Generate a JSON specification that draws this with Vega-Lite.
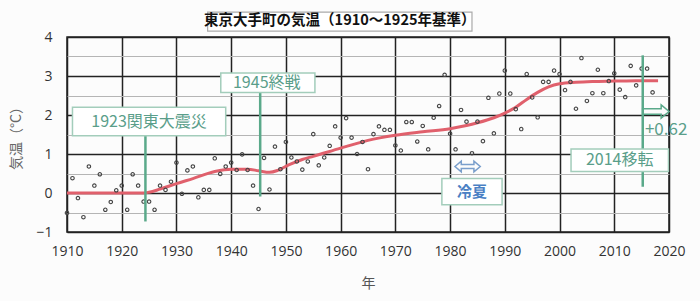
{
  "$schema": "https://vega.github.io/schema/vega-lite/v6.json",
  "width": 602,
  "height": 195,
  "autosize": "none",
  "padding": {"left": 67, "top": 37, "right": 31, "bottom": 69},
  "background": "#fcfcfc",
  "config": {
    "view": {"stroke": "#222", "strokeWidth": 1.5},
    "font": "Noto Sans CJK JP"
  },
  "datasets": {
    "temps": [
      {"year":1910,"v":-0.51},{"year":1911,"v":0.38},{"year":1912,"v":-0.13},{"year":1913,"v":-0.62},{"year":1914,"v":0.68},
      {"year":1915,"v":0.19},{"year":1916,"v":0.48},{"year":1917,"v":-0.43},{"year":1918,"v":-0.23},{"year":1919,"v":0.07},
      {"year":1920,"v":0.19},{"year":1921,"v":-0.43},{"year":1922,"v":0.48},{"year":1923,"v":0.19},{"year":1924,"v":-0.22},
      {"year":1925,"v":-0.22},{"year":1926,"v":-0.43},{"year":1927,"v":0.19},{"year":1928,"v":0.08},{"year":1929,"v":0.29},
      {"year":1930,"v":0.78},{"year":1931,"v":-0.02},{"year":1932,"v":0.58},{"year":1933,"v":0.68},{"year":1934,"v":-0.11},
      {"year":1935,"v":0.08},{"year":1936,"v":0.08},{"year":1937,"v":0.89},{"year":1938,"v":0.49},{"year":1939,"v":0.68},
      {"year":1940,"v":0.78},{"year":1941,"v":0.59},{"year":1942,"v":0.99},{"year":1943,"v":0.59},{"year":1944,"v":0.19},
      {"year":1945,"v":-0.41},{"year":1946,"v":0.90},{"year":1947,"v":0.09},{"year":1948,"v":1.19},{"year":1949,"v":0.61},
      {"year":1950,"v":1.31},{"year":1951,"v":0.91},{"year":1952,"v":0.81},{"year":1953,"v":0.60},{"year":1954,"v":0.81},
      {"year":1955,"v":1.51},{"year":1956,"v":0.71},{"year":1957,"v":0.91},{"year":1958,"v":1.21},{"year":1959,"v":1.71},
      {"year":1960,"v":1.42},{"year":1961,"v":1.92},{"year":1962,"v":1.42},{"year":1963,"v":1.00},{"year":1964,"v":1.31},
      {"year":1965,"v":0.61},{"year":1966,"v":1.51},{"year":1967,"v":1.71},{"year":1968,"v":1.62},{"year":1969,"v":1.62},
      {"year":1970,"v":1.22},{"year":1971,"v":1.09},{"year":1972,"v":1.82},{"year":1973,"v":1.82},{"year":1974,"v":1.32},
      {"year":1975,"v":1.72},{"year":1976,"v":1.12},{"year":1977,"v":1.93},{"year":1978,"v":2.23},{"year":1979,"v":3.03},
      {"year":1980,"v":1.52},{"year":1981,"v":1.12},{"year":1982,"v":2.13},{"year":1983,"v":1.83},{"year":1984,"v":1.02},
      {"year":1985,"v":1.83},{"year":1986,"v":1.33},{"year":1987,"v":2.44},{"year":1988,"v":1.53},{"year":1989,"v":2.55},
      {"year":1990,"v":3.14},{"year":1991,"v":2.55},{"year":1992,"v":2.15},{"year":1993,"v":1.64},{"year":1994,"v":3.05},
      {"year":1995,"v":2.45},{"year":1996,"v":1.94},{"year":1997,"v":2.85},{"year":1998,"v":2.85},{"year":1999,"v":3.14},
      {"year":2000,"v":3.05},{"year":2001,"v":2.64},{"year":2002,"v":2.85},{"year":2003,"v":2.16},{"year":2004,"v":3.46},
      {"year":2005,"v":2.36},{"year":2006,"v":2.56},{"year":2007,"v":3.16},{"year":2008,"v":2.56},{"year":2009,"v":2.87},
      {"year":2010,"v":3.07},{"year":2011,"v":2.65},{"year":2012,"v":2.46},{"year":2013,"v":3.26},{"year":2014,"v":2.76},
      {"year":2015,"v":3.19},{"year":2016,"v":3.19},{"year":2017,"v":2.58}
    ],
    "trend": [
      {"year":1910,"v":0},{"year":1915,"v":0},{"year":1920,"v":0},{"year":1924,"v":0},{"year":1925,"v":0.02},
      {"year":1927,"v":0.1},{"year":1930,"v":0.24},{"year":1933,"v":0.37},{"year":1937,"v":0.55},{"year":1940,"v":0.61},
      {"year":1943,"v":0.61},{"year":1945,"v":0.57},{"year":1947,"v":0.53},{"year":1948.5,"v":0.58},{"year":1950.5,"v":0.72},
      {"year":1953,"v":0.86},{"year":1955,"v":0.94},{"year":1960,"v":1.15},{"year":1965,"v":1.35},{"year":1970,"v":1.48},
      {"year":1975,"v":1.57},{"year":1980,"v":1.65},{"year":1983,"v":1.73},{"year":1985,"v":1.8},{"year":1988,"v":1.93},
      {"year":1990,"v":2.05},{"year":1992,"v":2.2},{"year":1994,"v":2.4},{"year":1996,"v":2.58},{"year":1998,"v":2.72},
      {"year":2000,"v":2.8},{"year":2003,"v":2.84},{"year":2006,"v":2.86},{"year":2010,"v":2.87},{"year":2014,"v":2.88},
      {"year":2018,"v":2.88}
    ],
    "events": [
      {"x":1924.33,"y1":-0.73,"y2":1.47},
      {"x":1945.3,"y1":-0.09,"y2":2.58},
      {"x":2015.2,"y1":0.16,"y2":3.53}
    ],
    "boxes": [
      {"x1":1911.0,"x2":1939.0,"y1":1.47,"y2":2.20,"label":"1923関東大震災","tx":1925.0,"ty":1.83},
      {"x1":1938.1,"x2":1955.3,"y1":2.58,"y2":3.08,"label":"1945終戦","tx":1946.5,"ty":2.83},
      {"x1":2002.1,"x2":2019.9,"y1":0.55,"y2":1.13,"label":"2014移転","tx":2011.0,"ty":0.84}
    ],
    "cool": [
      {"x1":1978.5,"x2":1989.5,"y1":-0.30,"y2":0.37,"label":"冷夏","tx":1984.0,"ty":0.03,"ax":1983.2,"ay":0.68}
    ],
    "titlebox": [
      {"x1":1935.7,"x2":1984.0,"y1":4.15,"y2":4.64,"label":"東京大手町の気温（1910～1925年基準）","tx":1959.85,"ty":4.4}
    ],
    "shift": [
      {"x":2015.6,"y":1.62,"label":"+0.62","ax":2017.6,"ay":2.09}
    ]
  },
  "resolve": {"axis": {"y": "independent"}},
  "layer": [
    {
      "data": {"name": "trend"},
      "mark": {"type": "line", "opacity": 0},
      "encoding": {
        "x": {
          "field": "year", "type": "quantitative",
          "scale": {"domain": [1910, 2020], "nice": false, "zero": false},
          "axis": {
            "title": "年",
            "values": [1910,1915,1920,1925,1930,1935,1940,1945,1950,1955,1960,1965,1970,1975,1980,1985,1990,1995,2000,2005,2010,2015,2020],
            "format": "d",
            "labelExpr": "datum.value % 10 === 0 ? datum.label : ''",
            "domain": false, "ticks": false,
            "labelPadding": 12, "labelFontSize": 14, "labelColor": "#333", "labelFont": "Open Sans",
            "labelFlush": false, "labelOverlap": false,
            "titleFontSize": 14, "titleFontWeight": "normal", "titleColor": "#555", "titlePadding": 18,
            "grid": true,
            "gridColor": {"condition": {"test": "datum.value % 10 === 0", "value": "#222"}, "value": "#b5b5b5"},
            "gridWidth": {"condition": {"test": "datum.value % 10 === 0", "value": 1.5}, "value": 1}
          }
        },
        "y": {
          "field": "v", "type": "quantitative",
          "scale": {"domain": [-1, 4], "nice": false, "zero": false},
          "axis": {
            "orient": "left",
            "title": null,
            "values": [-0.5,0.5,1.5,2.5,3.5],
            "labels": false, "domain": false, "ticks": false,
            "grid": true, "gridColor": "#b5b5b5", "gridWidth": 1
          }
        }
      }
    },
    {
      "data": {"name": "trend"},
      "mark": {"type": "line", "opacity": 0},
      "encoding": {
        "x": {"field": "year", "type": "quantitative"},
        "y": {
          "field": "v", "type": "quantitative",
          "axis": {
            "orient": "left",
            "title": "気温（°C）",
            "values": [-1,0,1,2,3,4],
            "domain": false, "ticks": false,
            "labelPadding": 15, "labelFontSize": 14, "labelColor": "#333", "labelFont": "Open Sans",
            "labelFlush": false, "labelOverlap": false, "labelBound": false,
            "titleFontSize": 14, "titleFontWeight": "normal", "titleColor": "#666", "titlePadding": 12,
            "grid": true, "gridColor": "#222", "gridWidth": 1.5
          }
        }
      }
    },
    {
      "mark": {"type": "rule", "color": "#111", "strokeWidth": 2.5},
      "encoding": {"y": {"datum": 0, "axis": null}}
    },
    {
      "data": {"name": "trend"},
      "mark": {"type": "line", "color": "#e0606c", "strokeWidth": 3, "interpolate": "monotone"},
      "encoding": {"x": {"field": "year", "type": "quantitative"}, "y": {"field": "v", "type": "quantitative", "axis": null}}
    },
    {
      "data": {"name": "temps"},
      "mark": {"type": "point", "shape": "circle", "filled": false, "size": 12, "stroke": "#444", "strokeWidth": 1.1, "opacity": 1},
      "encoding": {"x": {"field": "year", "type": "quantitative"}, "y": {"field": "v", "type": "quantitative", "axis": null}}
    },
    {
      "data": {"name": "events"},
      "mark": {"type": "rule", "color": "#5aa98a", "strokeWidth": 2.5},
      "encoding": {
        "x": {"field": "x", "type": "quantitative"},
        "y": {"field": "y1", "type": "quantitative", "axis": null},
        "y2": {"field": "y2"}
      }
    },
    {
      "data": {"name": "boxes"},
      "mark": {"type": "rect", "fill": "#ffffff", "stroke": "#a3cdbb", "strokeWidth": 1.5},
      "encoding": {
        "x": {"field": "x1", "type": "quantitative"}, "x2": {"field": "x2"},
        "y": {"field": "y1", "type": "quantitative", "axis": null}, "y2": {"field": "y2"}
      }
    },
    {
      "data": {"name": "boxes"},
      "mark": {"type": "text", "color": "#5a9e8a", "fontSize": 16, "align": "center", "baseline": "middle"},
      "encoding": {
        "x": {"field": "tx", "type": "quantitative"},
        "y": {"field": "ty", "type": "quantitative", "axis": null},
        "text": {"field": "label"}
      }
    },
    {
      "data": {"name": "cool"},
      "mark": {"type": "rect", "fill": "#ffffff", "stroke": "#a3cdbb", "strokeWidth": 1.5},
      "encoding": {
        "x": {"field": "x1", "type": "quantitative"}, "x2": {"field": "x2"},
        "y": {"field": "y1", "type": "quantitative", "axis": null}, "y2": {"field": "y2"}
      }
    },
    {
      "data": {"name": "cool"},
      "mark": {"type": "text", "color": "#4a80c4", "fontSize": 15, "fontWeight": "bold", "align": "center", "baseline": "middle"},
      "encoding": {
        "x": {"field": "tx", "type": "quantitative"},
        "y": {"field": "ty", "type": "quantitative", "axis": null},
        "text": {"field": "label"}
      }
    },
    {
      "data": {"name": "cool"},
      "mark": {"type": "point", "filled": false, "stroke": "#7a9fcc", "strokeWidth": 1.5, "size": 640, "opacity": 1,
        "shape": "M-1,0 L-0.5,-0.42 L-0.5,-0.16 L0.5,-0.16 L0.5,-0.42 L1,0 L0.5,0.42 L0.5,0.16 L-0.5,0.16 L-0.5,0.42 Z"},
      "encoding": {
        "x": {"field": "ax", "type": "quantitative"},
        "y": {"field": "ay", "type": "quantitative", "axis": null}
      }
    },
    {
      "data": {"name": "shift"},
      "mark": {"type": "text", "color": "#5a9e8a", "fontSize": 17, "align": "left", "baseline": "middle"},
      "encoding": {
        "x": {"field": "x", "type": "quantitative"},
        "y": {"field": "y", "type": "quantitative", "axis": null},
        "text": {"field": "label"}
      }
    },
    {
      "data": {"name": "shift"},
      "mark": {"type": "point", "filled": false, "stroke": "#5aa98a", "strokeWidth": 1.5, "size": 700, "opacity": 1,
        "shape": "M-1,-0.2 L0.4,-0.2 L0.4,-0.5 L1,0 L0.4,0.5 L0.4,0.2 L-1,0.2 Z"},
      "encoding": {
        "x": {"field": "ax", "type": "quantitative"},
        "y": {"field": "ay", "type": "quantitative", "axis": null}
      }
    },
    {
      "data": {"name": "titlebox"},
      "mark": {"type": "rect", "fill": "#ffffff", "stroke": "#aaaaaa", "strokeWidth": 1.2},
      "encoding": {
        "x": {"field": "x1", "type": "quantitative"}, "x2": {"field": "x2"},
        "y": {"field": "y1", "type": "quantitative", "axis": null}, "y2": {"field": "y2"}
      }
    },
    {
      "data": {"name": "titlebox"},
      "mark": {"type": "text", "color": "#111", "fontSize": 14.5, "fontWeight": "bold", "align": "center", "baseline": "middle"},
      "encoding": {
        "x": {"field": "tx", "type": "quantitative"},
        "y": {"field": "ty", "type": "quantitative", "axis": null},
        "text": {"field": "label"}
      }
    }
  ]
}
